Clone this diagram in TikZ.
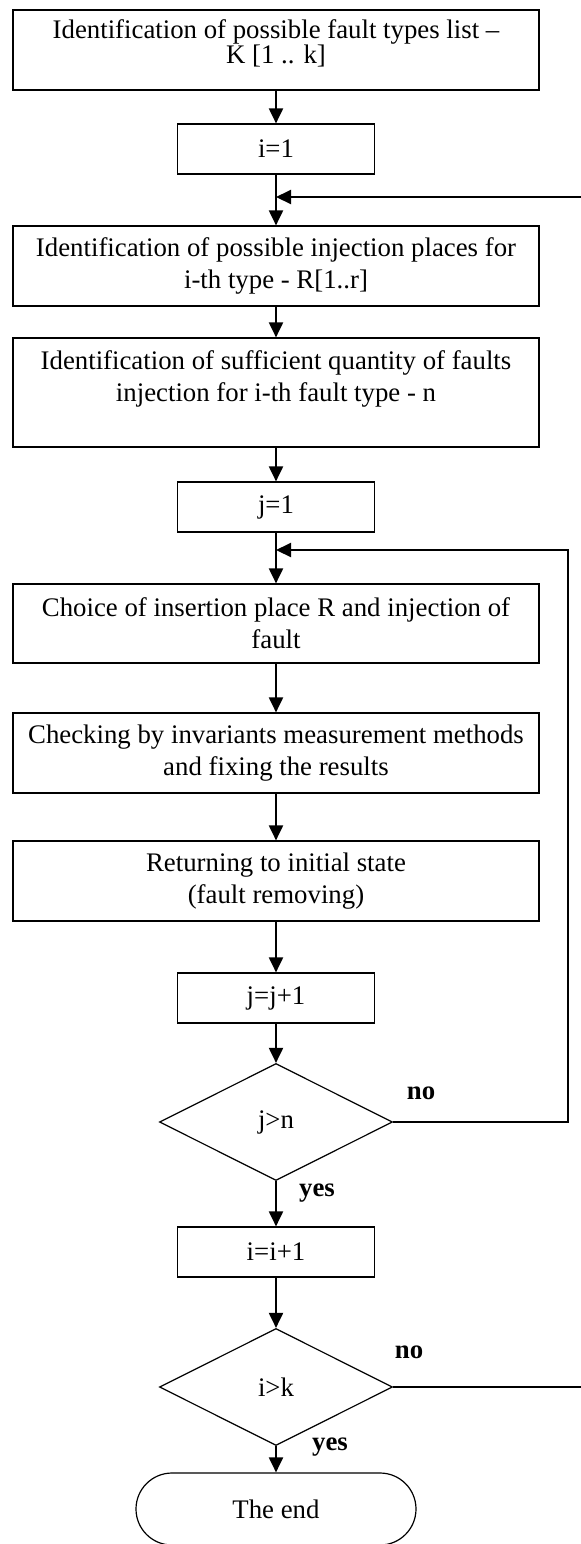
\documentclass[tikz,border=0pt]{standalone}
\usepackage{fontspec}
\setmainfont{Liberation Serif}
\usetikzlibrary{arrows.meta,shapes.geometric}

\begin{document}
\begin{tikzpicture}[x=0.5pt,y=-0.5pt,
    font=\fontsize{13.4}{16}\selectfont,
    >={Triangle[width=7pt,length=7.5pt]},
    wide/.style={draw,line width=0.6pt,minimum width=263pt,align=center,inner sep=0pt},
    small/.style={draw,line width=0.6pt,minimum width=98.5pt,minimum height=25pt,inner sep=0pt},
    test/.style={draw,diamond,line width=0.6pt,minimum width=116.5pt,minimum height=58.5pt,inner sep=0pt},
    flow/.style={->,line width=1pt},
    answer/.style={font=\bfseries\fontsize{13.4}{16}\selectfont}]
  \useasboundingbox (0,0) rectangle (580,1544);

  \node[wide,minimum height=40pt] (types) at (276,50) {Identification of possible fault types list --\\[-3.5pt]K [1 .. k]\\[-8pt]~};
  \node[small] (iset) at (276,149) {i=1};
  \node[wide,minimum height=40pt] (places) at (276,266) {Identification of possible injection places for\\i-th type - R[1..r]};
  \node[wide,minimum height=54.5pt] (amount) at (276,392.5) {Identification of sufficient quantity of faults\\injection for i-th fault type - n\\~};
  \node[small] (jset) at (276,507) {j=1};
  \node[wide,minimum height=39.5pt] (choice) at (276,623.5) {Choice of insertion place R and injection of\\fault};
  \node[wide,minimum height=40pt] (check) at (276,753) {Checking by invariants measurement methods\\and fixing the results};
  \node[wide,minimum height=40pt] (restore) at (276,881) {Returning to initial state\\(fault removing)};
  \node[small] (jinc) at (276,998) {j=j+1};
  \node[test] (jtest) at (276,1122) {j>n};
  \node[small] (iinc) at (276,1252) {i=i+1};
  \node[test] (itest) at (276,1387) {i>k};
  \node[draw,line width=0.6pt,rounded corners=18pt,minimum width=140pt,minimum height=36pt] (finish) at (276,1509) {The end};

  \coordinate (outer) at (276,197);
  \coordinate (inner) at (276,550);

  \draw[flow] (types) -- (iset);
  \draw[flow] (iset) -- (places);
  \draw[flow] (places) -- (amount);
  \draw[flow] (amount) -- (jset);
  \draw[flow] (jset) -- (choice);
  \draw[flow] (choice) -- (check);
  \draw[flow] (check) -- (restore);
  \draw[flow] (restore) -- (jinc);
  \draw[flow] (jinc) -- (jtest);
  \draw[flow] (jtest) -- (iinc);
  \draw[flow] (iinc) -- (itest);
  \draw[flow] (itest) -- (finish);

  \draw[flow] (jtest.east) -- ++(175,0) |- (inner);
  \draw[flow] (itest.east) -- ++(230,0) |- (outer);

  \node[answer] (jno) at ([shift={(28,-29)}]jtest.east) {no};
  \node[answer] (jyes) at ([shift={(41,12)}]jtest.south) {yes};
  \node[answer] (ino) at ([shift={(16,-35)}]itest.east) {no};
  \node[answer] (iyes) at ([shift={(54,1)}]itest.south) {yes};
\end{tikzpicture}
\end{document}
